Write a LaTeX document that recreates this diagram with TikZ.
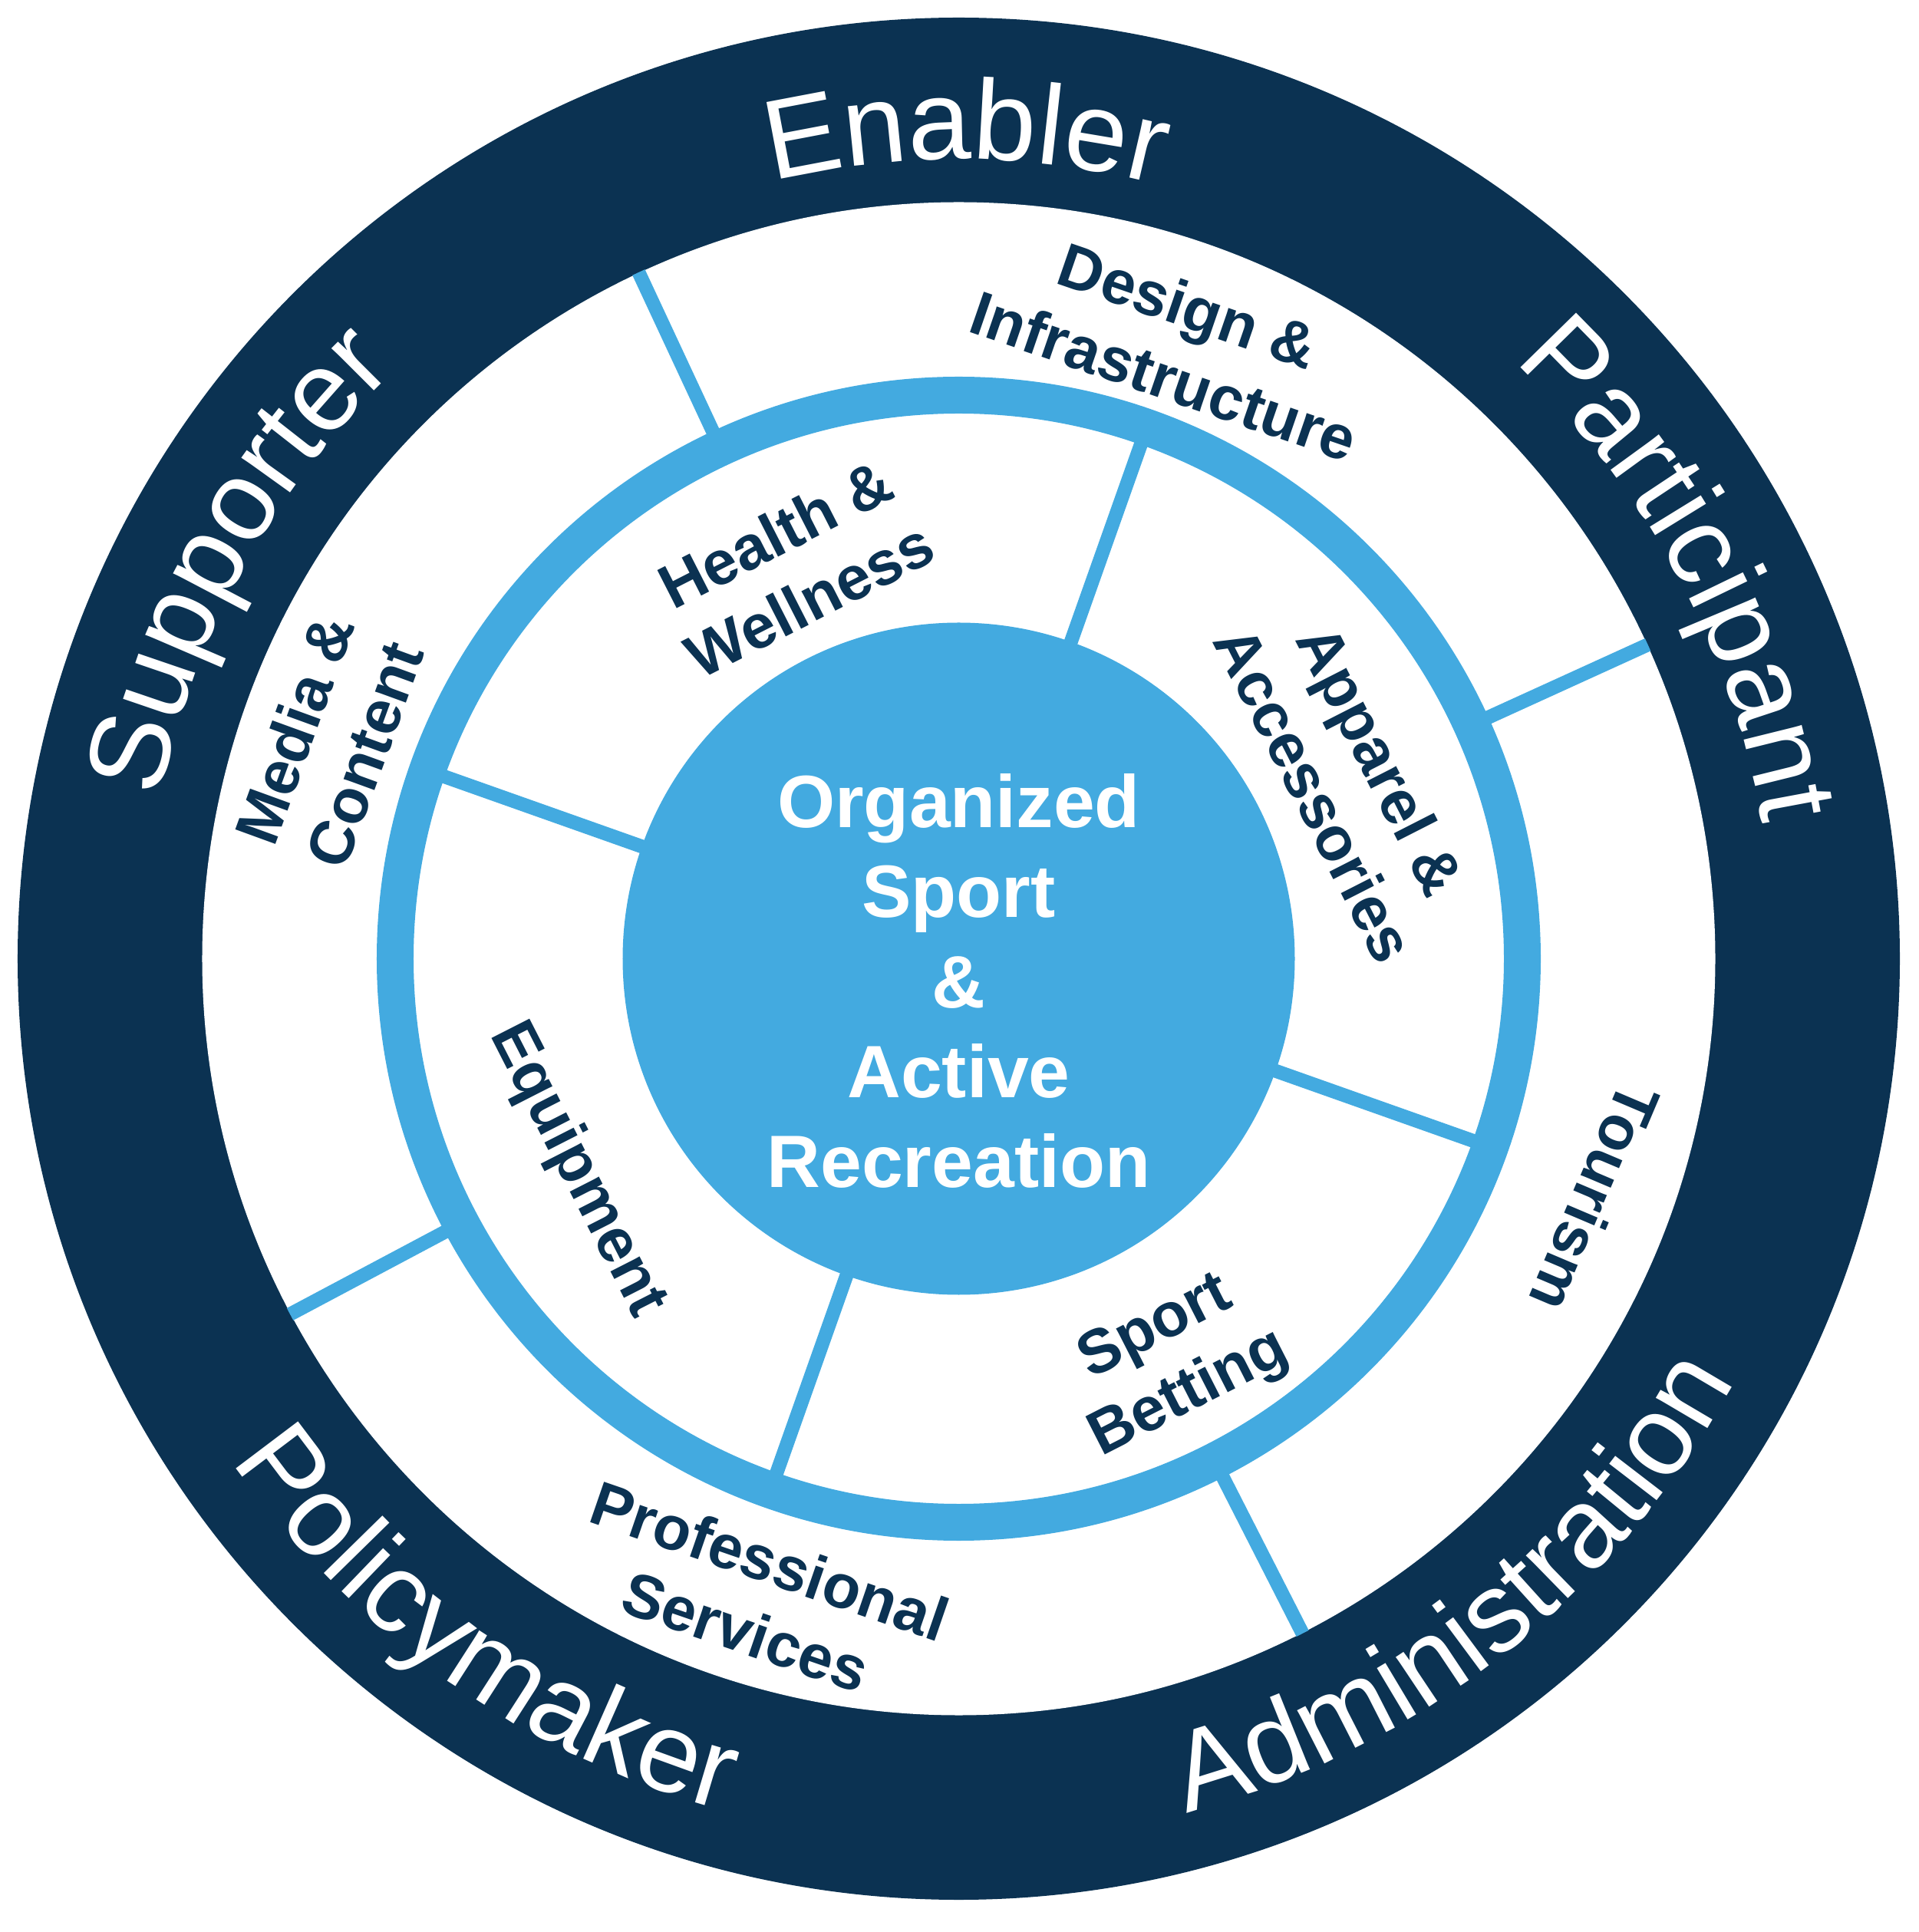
\documentclass[tikz,border=0pt]{standalone}
\usepackage{fontspec}
\setmainfont{Liberation Sans}
\usetikzlibrary{decorations.text}
\definecolor{navy}{RGB}{11,50,82}
\definecolor{skyblue}{RGB}{67,170,224}
\newcommand{\ringfont}{\fontsize{42}{42}\selectfont}
\newcommand{\labelfont}{\fontsize{23}{27.6}\selectfont\bfseries}
\newcommand{\corefont}{\fontsize{27.5}{33.4}\selectfont\bfseries}

\begin{document}
\begin{tikzpicture}[
  divider/.style={skyblue,line width=0.18cm},
  lbl/.style={navy,font=\labelfont,align=center,inner sep=0pt},
  corelbl/.style={white,font=\corefont,align=center,inner sep=0pt},
  ringtext/.style={decorate,decoration={text along path,text align=center,text color=white,text={|\ringfont|#1}}}]
 \useasboundingbox (-12.495,-12.685) rectangle (12.505,12.495);
 % rings
 \fill[navy] (0,0) circle (12.265);
 \fill[white] (0,0) circle (9.86);
 \draw[skyblue,line width=0.48cm] (0,0) circle (7.345);
 % inner dividers
 \draw[divider] (70.5:4.2) -- (70.5:7.2);
 \draw[divider] (160.5:4.2) -- (160.5:7.2);
 \draw[divider] (250.5:4.2) -- (250.5:7.2);
 \draw[divider] (340.5:4.2) -- (340.5:7.2);
 % outer dividers
 \draw[divider] (24.5:7.45) -- (24.5:9.87);
 \draw[divider] (115:7.45) -- (115:9.87);
 \draw[divider] (208:7.45) -- (208:9.87);
 \draw[divider] (297:7.45) -- (297:9.87);
 \fill[skyblue] (0,0) circle (4.38);
 % outer ring words
 \path[ringtext=Enabler] (124.5:10.42) arc[start angle=124.5,end angle=54.5,radius=10.42];
 \path[ringtext=Participant] (63.3:10.62) arc[start angle=63.3,end angle=-6.7,radius=10.62];
 \path[ringtext=Supporter] (186.2:10.62) arc[start angle=186.2,end angle=116.2,radius=10.62];
 \path[ringtext=Policymaker] (199.6:11.52) arc[start angle=199.6,end angle=269.6,radius=11.52];
 \path[ringtext=Administration] (273.2:11.52) arc[start angle=273.2,end angle=343.2,radius=11.52];
 % segment labels
 \node[lbl,rotate=-19] (design) at (70.6:8.54) {Design \&\\Infrastructure};
 \node[lbl,rotate=-113] (tourism) at (-20.6:8.86) {Tourism};
 \node[lbl,rotate=-19] (profserv) at (252.5:8.71) {Professional\\Services};
 \node[lbl,rotate=70] (media) at (161:8.68) {Media \&\\Content};
 \node[lbl,rotate=27] (health) at (113:5.55) {Health \&\\Wellness};
 \node[lbl,rotate=-63] (apparel) at (25:5.6) {Apparel \&\\Accessories};
 \node[lbl,rotate=27] (betting) at (-62:5.95) {Sport\\Betting};
 \node[lbl,rotate=-63] (equip) at (209:5.69) {Equipment};
 % centre
 \node[corelbl] (core) at (0,-0.29) {Organized\\Sport\\\&\\Active\\Recreation};
\end{tikzpicture}
\end{document}
